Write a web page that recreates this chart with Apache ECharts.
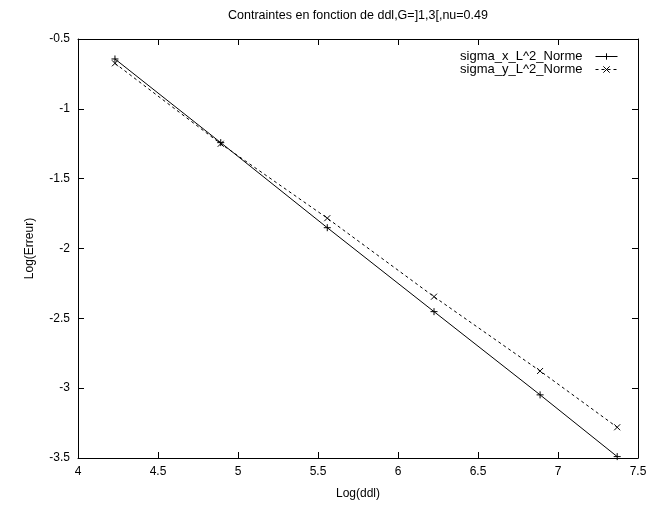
<!DOCTYPE html>
<html>
<head>
<meta charset="utf-8">
<script src="https://cdn.jsdelivr.net/npm/echarts@6/dist/echarts.min.js"></script>
<style>
  html, body { margin: 0; padding: 0; background: #fff; }
  #chart { width: 654px; height: 506px; }
</style>
</head>
<body>
<div id="chart"></div>
<script>
// Log of degrees of freedom (x) and log of the error norms (y)
const logDdl = [4.231, 4.892, 5.558, 6.225, 6.888, 7.37];
const sigmaX = [-0.643, -1.242, -1.851, -2.452, -3.048, -3.49];
const sigmaY = [-0.674, -1.250, -1.783, -2.345, -2.877, -3.28];
const seriesNames = ['sigma_x_L^2_Norme', 'sigma_y_L^2_Norme'];
const titleText = 'Contraintes en fonction de ddl,G=]1,3[,nu=0.49';

const FONT = '"Liberation Sans", Arial, Helvetica, sans-serif';
const PLUS = 'path://M0,5L10,5M5,0L5,10';
const CROSS = 'path://M0,0L10,10M10,0L0,10';

const pairs = (xs, ys) => xs.map((x, i) => [x, ys[i]]);

const axisCommon = {
  axisLine: { show: true, lineStyle: { color: '#000', width: 1 } },
  axisTick: { show: true, inside: true, length: 6, lineStyle: { color: '#000' } },
  splitLine: { show: false },
  axisLabel: { color: '#000', fontFamily: FONT, fontSize: 12 }
};

const chart = echarts.init(document.getElementById('chart'), null, { renderer: 'canvas' });
chart.setOption({
  animation: false,
  backgroundColor: '#fff',
  graphic: [{
    type: 'text',
    x: 358, y: 16,
    style: {
      text: titleText, fill: '#000', font: '12.5px ' + FONT,
      textAlign: 'center', textVerticalAlign: 'middle'
    }
  }],
  grid: { left: 78, right: 16, top: 39, bottom: 48, containLabel: false },
  legend: {
    orient: 'vertical',
    right: 31, top: 45,
    align: 'right',
    itemWidth: 22, itemHeight: 8, itemGap: 0,
    lineStyle: { width: 1 },
    itemStyle: { borderWidth: 1 },
    textStyle: { color: '#000', fontFamily: FONT, fontSize: 13, lineHeight: 11, padding: [0, 8, 0, 0] },
    data: seriesNames
  },
  xAxis: [
    Object.assign({}, axisCommon, {
      type: 'value', min: 4, max: 7.5, interval: 0.5,
      name: 'Log(ddl)', nameLocation: 'middle', nameGap: 30,
      nameTextStyle: { color: '#000', fontFamily: FONT, fontSize: 12 },
      axisLabel: Object.assign({}, axisCommon.axisLabel, { margin: 8 })
    }),
    Object.assign({}, axisCommon, {
      type: 'value', min: 4, max: 7.5, interval: 0.5, position: 'top',
      axisLabel: { show: false }
    })
  ],
  yAxis: [
    Object.assign({}, axisCommon, {
      type: 'value', min: -3.5, max: -0.5, interval: 0.5,
      name: 'Log(Erreur)', nameLocation: 'middle', nameGap: 42, nameRotate: 90,
      nameTextStyle: { color: '#000', fontFamily: FONT, fontSize: 12 },
      axisLabel: Object.assign({}, axisCommon.axisLabel, { margin: 8 })
    }),
    Object.assign({}, axisCommon, {
      type: 'value', min: -3.5, max: -0.5, interval: 0.5, position: 'right',
      axisLabel: { show: false }
    })
  ],
  series: [
    {
      name: seriesNames[0], type: 'line',
      data: pairs(logDdl, sigmaX),
      symbol: PLUS, symbolSize: 7, showSymbol: true,
      lineStyle: { color: '#000', width: 1, type: 'solid' },
      itemStyle: { color: '#000', borderColor: '#000', borderWidth: 1 }
    },
    {
      name: seriesNames[1], type: 'line',
      data: pairs(logDdl, sigmaY),
      symbol: CROSS, symbolSize: 6, showSymbol: true,
      lineStyle: { color: '#000', width: 1, type: [3, 3] },
      itemStyle: { color: '#000', borderColor: '#000', borderWidth: 1 }
    }
  ]
});
</script>
</body>
</html>
